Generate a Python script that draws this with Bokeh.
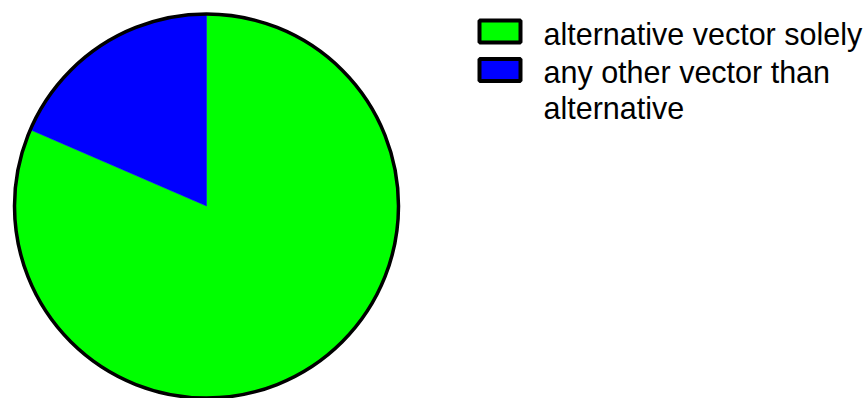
import math
from bokeh.plotting import figure
from bokeh.models import ColumnDataSource, Range1d
from bokeh.core.properties import value
from bokeh.embed import file_html
from bokeh.resources import INLINE

# data
labels = ["alternative vector solely", "any other vector than\nalternative"]
shares = [81.5, 18.5]
colors = ["#00ff00", "#0000ff"]

W, H = 868, 398
p = figure(width=W, height=H, output_backend="svg", toolbar_location=None,
           x_axis_location=None, y_axis_location=None, min_border=0,
           x_range=Range1d(0, W), y_range=Range1d(0, H))
p.grid.visible = False
p.outline_line_color = None
p.background_fill_color = "white"

def Y(py):
    return H - py

cx, cy, r = 206, Y(205.5), 192
total = sum(shares)
starts, ends = [], []
acc = 0.0
for s in shares:
    # clockwise from 12 o'clock
    a0 = math.pi / 2 - 2 * math.pi * acc / total
    acc += s
    a1 = math.pi / 2 - 2 * math.pi * acc / total
    starts.append(a0)
    ends.append(a1)

src = ColumnDataSource(dict(start=starts, end=ends, color=colors))
p.wedge(x=cx, y=cy, radius=r, start_angle="start", end_angle="end", direction="clock",
        fill_color="color", line_color="color", line_width=0.5, source=src)
p.circle(x=[cx], y=[cy], radius=r, fill_color=None, line_color="black", line_width=3.5)

# legend
box_cx, box_w, box_h = 499.5, 41, 22
row_y = [31, 69.5]
line_gap = 36.2
text_x = 543
for i, (lab, col) in enumerate(zip(labels, colors)):
    yc = row_y[i]
    p.rect(x=[box_cx], y=[Y(yc)], width=box_w, height=box_h,
           fill_color=col, line_color="black", line_width=4)
    for j, ln in enumerate(lab.split("\n")):
        p.text(x=[text_x], y=[Y(yc + 2 + j * line_gap)], text=[ln],
               text_font=value("Liberation Sans"), text_font_size="30.5px",
               text_baseline="alphabetic", text_align="left", text_color="black")

open("out.html", "w").write(file_html(p, INLINE))
